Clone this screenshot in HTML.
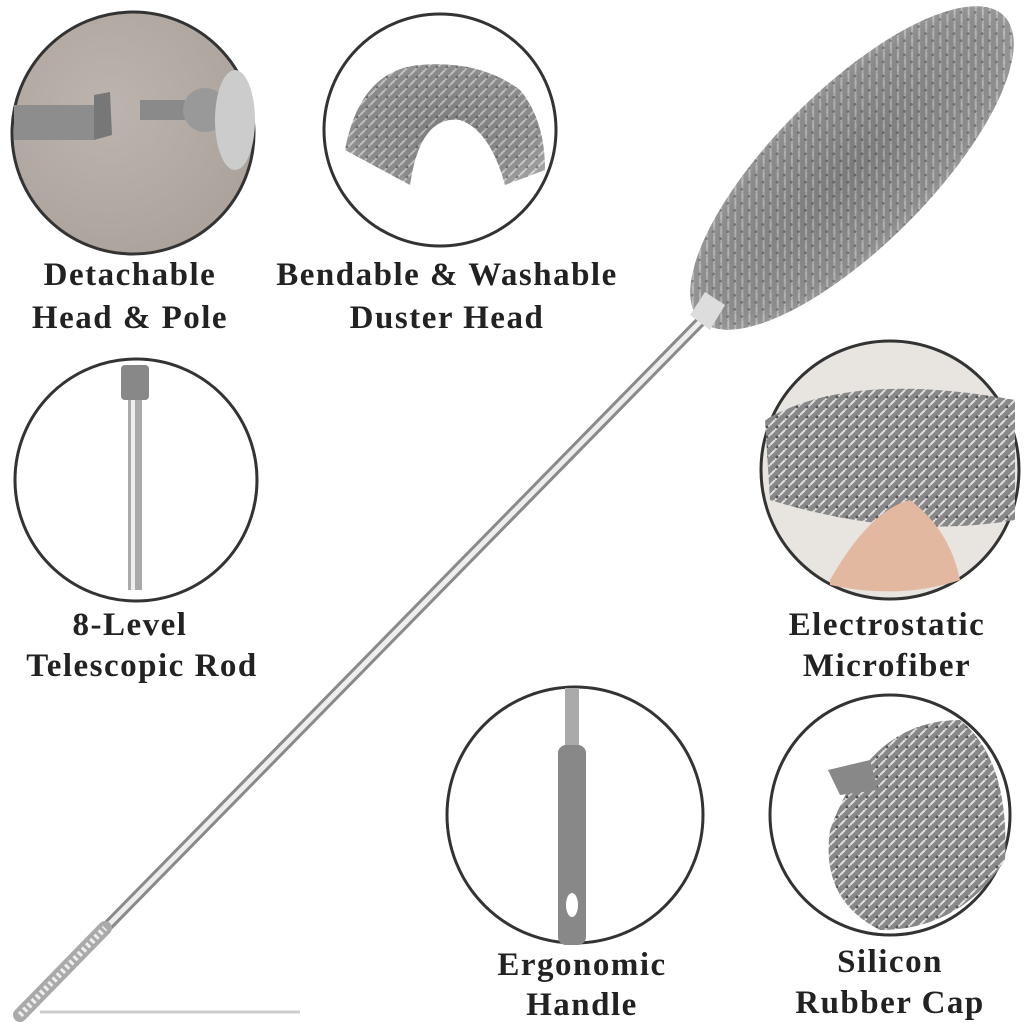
<!DOCTYPE html>
<html><head><meta charset="utf-8"><style>
html,body{margin:0;padding:0;background:#fff;width:1024px;height:1024px;overflow:hidden}
svg text{font-family:"Liberation Serif",serif;font-size:33px;font-weight:bold;fill:#222;text-anchor:middle;letter-spacing:1.5px}
</style></head><body>
<svg width="1024" height="1024" viewBox="0 0 1024 1024" xmlns="http://www.w3.org/2000/svg">
<defs>
<radialGradient id="fuzz" cx="0.5" cy="0.5" r="0.6">
<stop offset="0" stop-color="#6f6f6f"/><stop offset="0.75" stop-color="#8f8f8f"/><stop offset="1" stop-color="#c8c8c8"/>
</radialGradient>
<pattern id="fib" width="10" height="10" patternUnits="userSpaceOnUse">
<rect width="10" height="10" fill="#888"/><path d="M0 5 L5 0 M5 10 L10 5" stroke="#e0e0e0" stroke-width="2"/><circle cx="7" cy="7" r="1.5" fill="#555"/>
</pattern>
<radialGradient id="bg1" cx="0.4" cy="0.4" r="0.7"><stop offset="0" stop-color="#bdb5ad"/><stop offset="1" stop-color="#a9a19a"/></radialGradient>
</defs>

<!-- Main pole -->
<line x1="30" y1="1005" x2="700" y2="322" stroke="#8a8a8a" stroke-width="11" stroke-linecap="round"/>
<line x1="30" y1="1005" x2="700" y2="322" stroke="#eeeeee" stroke-width="5"/>
<line x1="20" y1="1015" x2="105" y2="928" stroke="#aaa" stroke-width="14" stroke-linecap="round"/>
<line x1="20" y1="1015" x2="105" y2="928" stroke="#eee" stroke-width="6" stroke-dasharray="3 3"/>
<line x1="40" y1="1012" x2="300" y2="1012" stroke="#ccc" stroke-width="3"/>

<!-- Duster head -->
<g transform="translate(852,168) rotate(-45)">
<ellipse cx="0" cy="0" rx="215" ry="78" fill="url(#fib)"/>
<ellipse cx="0" cy="0" rx="215" ry="78" fill="url(#fuzz)" opacity="0.55"/>
</g>
<polygon points="690,315 710,330 725,305 705,292" fill="#ddd"/>

<!-- Circle 1 -->
<circle cx="133" cy="133" r="121" fill="url(#bg1)" stroke="#333" stroke-width="3"/>
<rect x="14" y="105" width="80" height="35" fill="#8d8d8d"/>
<polygon points="94,95 110,92 112,135 94,140" fill="#777"/>
<rect x="140" y="100" width="45" height="20" fill="#8a8a8a"/>
<circle cx="205" cy="110" r="22" fill="#999"/>
<ellipse cx="235" cy="120" rx="20" ry="50" fill="#ccc"/>

<!-- Circle 2 -->
<circle cx="440" cy="130" r="116" fill="#fff" stroke="#333" stroke-width="3"/>
<path d="M345 150 Q360 70 420 65 Q480 60 520 90 Q545 120 545 170 L505 185 Q490 130 460 120 Q420 115 410 185 Z" fill="url(#fib)"/>
<path d="M345 150 Q360 70 420 65 Q480 60 520 90 Q545 120 545 170 L505 185 Q490 130 460 120 Q420 115 410 185 Z" fill="url(#fuzz)" opacity="0.4"/>

<!-- Circle 3 -->
<circle cx="136" cy="480" r="121" fill="#fff" stroke="#333" stroke-width="3"/>
<rect x="121" y="365" width="28" height="35" rx="4" fill="#888"/>
<rect x="128" y="400" width="14" height="190" fill="#aaa"/>
<rect x="131" y="400" width="4" height="190" fill="#eee"/>

<!-- Circle 4 -->
<circle cx="890" cy="470" r="129" fill="#e8e4e0" stroke="#333" stroke-width="3"/>
<path d="M765 420 Q850 370 1015 400 L1015 520 Q900 540 770 500 Z" fill="url(#fib)"/>
<path d="M830 580 Q870 510 910 500 Q950 530 960 580 Q900 600 830 585 Z" fill="#e2b8a0"/>

<!-- Circle 5 -->
<circle cx="575" cy="815" r="128" fill="#fff" stroke="#333" stroke-width="3"/>
<rect x="565" y="688" width="14" height="60" fill="#aaa"/>
<rect x="558" y="745" width="28" height="200" rx="8" fill="#888"/>
<ellipse cx="572" cy="905" rx="6" ry="12" fill="#fff"/>

<!-- Circle 6 -->
<circle cx="890" cy="815" r="120" fill="#fff" stroke="#333" stroke-width="3"/>
<path d="M830 830 Q870 720 960 720 Q1010 760 1005 860 Q960 930 880 930 Q820 900 830 830 Z" fill="url(#fib)"/>
<polygon points="828,770 870,760 878,790 840,795" fill="#888"/>

<!-- Labels -->
<text x="130" y="285">Detachable</text>
<text x="130" y="328">Head &amp; Pole</text>
<text x="447" y="285">Bendable &amp; Washable</text>
<text x="447" y="328">Duster Head</text>
<text x="130" y="635">8-Level</text>
<text x="142" y="676">Telescopic Rod</text>
<text x="887" y="635">Electrostatic</text>
<text x="887" y="676">Microfiber</text>
<text x="582" y="975">Ergonomic</text>
<text x="582" y="1015">Handle</text>
<text x="890" y="972">Silicon</text>
<text x="890" y="1013">Rubber Cap</text>
</svg>
</body></html>
